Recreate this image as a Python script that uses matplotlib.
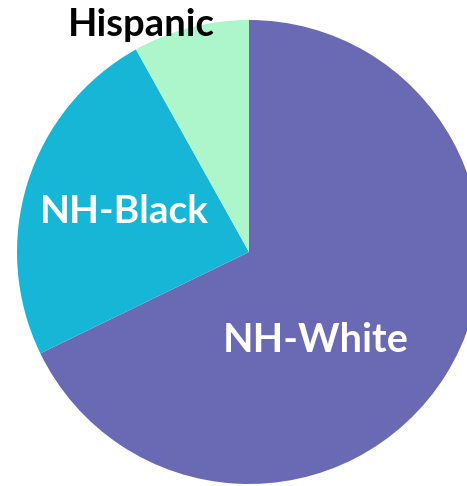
#!/usr/bin/env python3
"""
Pie chart: population share by race/ethnicity
"""

import matplotlib
matplotlib.use("Agg")
import matplotlib.pyplot as plt

# data (clockwise from 12 o'clock)
groups = ["NH-White", "NH-Black", "Hispanic"]
shares = [67.8, 24.1, 8.1]
colors = ["#6a6ab4", "#17b6d6", "#adf5cb"]

W, H = 467, 486
CX, CY, R = 249, 252, 232  # circle centre / radius in pixels (from top-left)


def px(x, y):
    """pixel (from top-left) -> data coords of the unit pie"""
    return (x - CX) / R, (CY - y) / R


def main():
    fig = plt.figure(figsize=(W / 100, H / 100), dpi=100)
    ax = fig.add_axes([0, 0, 1, 1])

    ax.pie(shares, colors=colors, startangle=90, counterclock=False,
           radius=1.0, wedgeprops={"linewidth": 0})

    ax.set_aspect("auto")
    x0, y1 = px(0, 0)
    x1, y0 = px(W, H)
    ax.set_xlim(x0, x1)
    ax.set_ylim(y0, y1)
    ax.axis("off")

    font = dict(family=["Lato", "DejaVu Sans"], fontweight="bold",
                ha="center", va="baseline")
    ax.text(*px(141, 36), "Hispanic", color="black", fontsize=27.5, **font)
    ax.text(*px(124, 223), "NH-Black", color="white", fontsize=28, **font)
    ax.text(*px(316, 352), "NH-White", color="white", fontsize=28.5, **font)

    fig.savefig("out.png", dpi=100, facecolor="white")
    plt.close(fig)


if __name__ == "__main__":
    main()
